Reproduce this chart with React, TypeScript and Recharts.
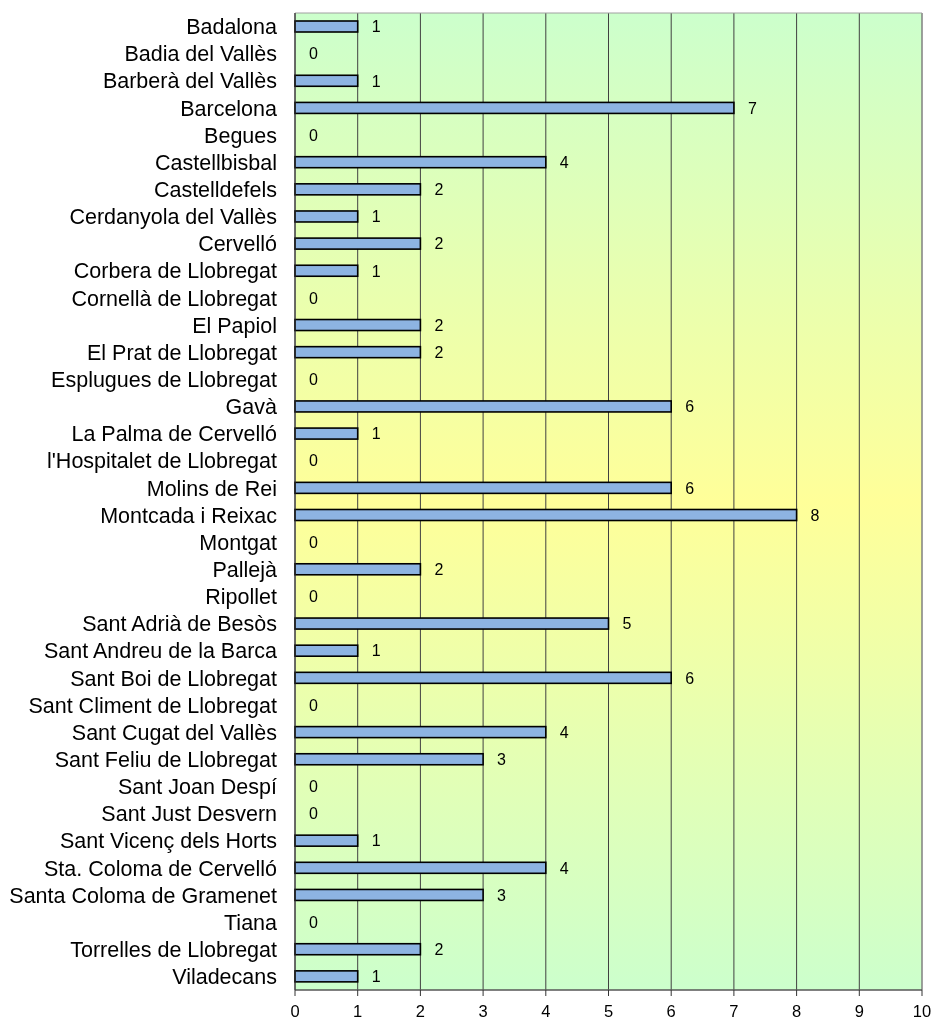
import React from "react";
import {
  BarChart,
  Bar,
  XAxis,
  YAxis,
  CartesianGrid,
  ReferenceArea,
} from "recharts";

const municipalities = [
  "Badalona",
  "Badia del Vallès",
  "Barberà del Vallès",
  "Barcelona",
  "Begues",
  "Castellbisbal",
  "Castelldefels",
  "Cerdanyola del Vallès",
  "Cervelló",
  "Corbera de Llobregat",
  "Cornellà de Llobregat",
  "El Papiol",
  "El Prat de Llobregat",
  "Esplugues de Llobregat",
  "Gavà",
  "La Palma de Cervelló",
  "l'Hospitalet de Llobregat",
  "Molins de Rei",
  "Montcada i Reixac",
  "Montgat",
  "Pallejà",
  "Ripollet",
  "Sant Adrià de Besòs",
  "Sant Andreu de la Barca",
  "Sant Boi de Llobregat",
  "Sant Climent de Llobregat",
  "Sant Cugat del Vallès",
  "Sant Feliu de Llobregat",
  "Sant Joan Despí",
  "Sant Just Desvern",
  "Sant Vicenç dels Horts",
  "Sta. Coloma de Cervelló",
  "Santa Coloma de Gramenet",
  "Tiana",
  "Torrelles de Llobregat",
  "Viladecans",
];

const counts = [
  1, 0, 1, 7, 0, 4, 2, 1, 2, 1, 0, 2, 2, 0, 6, 1, 0, 6, 8, 0, 2, 0, 5, 1, 6, 0,
  4, 3, 0, 0, 1, 4, 3, 0, 2, 1,
];

const xTicks = [0, 1, 2, 3, 4, 5, 6, 7, 8, 9, 10];

const data = municipalities.map((name, i) => ({ name, value: counts[i] }));

const FONT = "'Liberation Sans', Arial, sans-serif";

const BarWithLabel = (props: any) => {
  const { x, y, width, height, value } = props;
  const w = Math.max(0, Number(width) || 0);
  const v = Array.isArray(value) ? value[1] : value;
  return (
    <g>
      {w > 0 && (
        <rect
          x={x}
          y={y}
          width={w}
          height={height}
          fill="#8DB4E2"
          stroke="#000000"
          strokeWidth={1.6}
        />
      )}
      <text
        x={x + w + 14}
        y={y + height / 2}
        dy="0.36em"
        textAnchor="start"
        fill="#000000"
        fontSize={16}
        fontFamily={FONT}
      >
        {v}
      </text>
    </g>
  );
};

export default function App() {
  return (
    <div style={{ position: "fixed", left: 0, top: 0, width: 932, height: 1019 }}>
      <BarChart
        width={932}
        height={1019}
        data={data}
        layout="vertical"
        margin={{ top: 13, right: 10, bottom: 0, left: 0 }}
        barCategoryGap={0}
      >
        <defs>
          <linearGradient id="bgGrad" x1="0" y1="0" x2="0" y2="1">
            <stop offset="0%" stopColor="#CCFFCC" />
            <stop offset="50%" stopColor="#FFFF99" />
            <stop offset="100%" stopColor="#CCFFCC" />
          </linearGradient>
        </defs>
        <CartesianGrid
          horizontal={false}
          vertical={true}
          stroke="#404040"
          strokeWidth={1}
          fill="url(#bgGrad)"
          fillOpacity={1}
        />
        <ReferenceArea
          x1={0}
          x2={10}
          fill="none"
          stroke="#A0A0A0"
          strokeWidth={1}
          ifOverflow="visible"
        />
        <XAxis
          type="number"
          domain={[0, 10]}
          ticks={xTicks}
          interval={0}
          height={29}
          tickSize={6}
          tickMargin={9}
          stroke="#333333"
          tick={{ fill: "#000000", fontSize: 16.5, fontFamily: FONT }}
        />
        <YAxis
          type="category"
          dataKey="name"
          width={295}
          interval={0}
          tickSize={0}
          tickMargin={18}
          stroke="#333333"
          tick={{ fill: "#000000", fontSize: 21.5, fontFamily: FONT }}
        />
        <Bar
          dataKey="value"
          barSize={11}
          shape={BarWithLabel}
          minPointSize={0}
          isAnimationActive={false}
        />
      </BarChart>
    </div>
  );
}
